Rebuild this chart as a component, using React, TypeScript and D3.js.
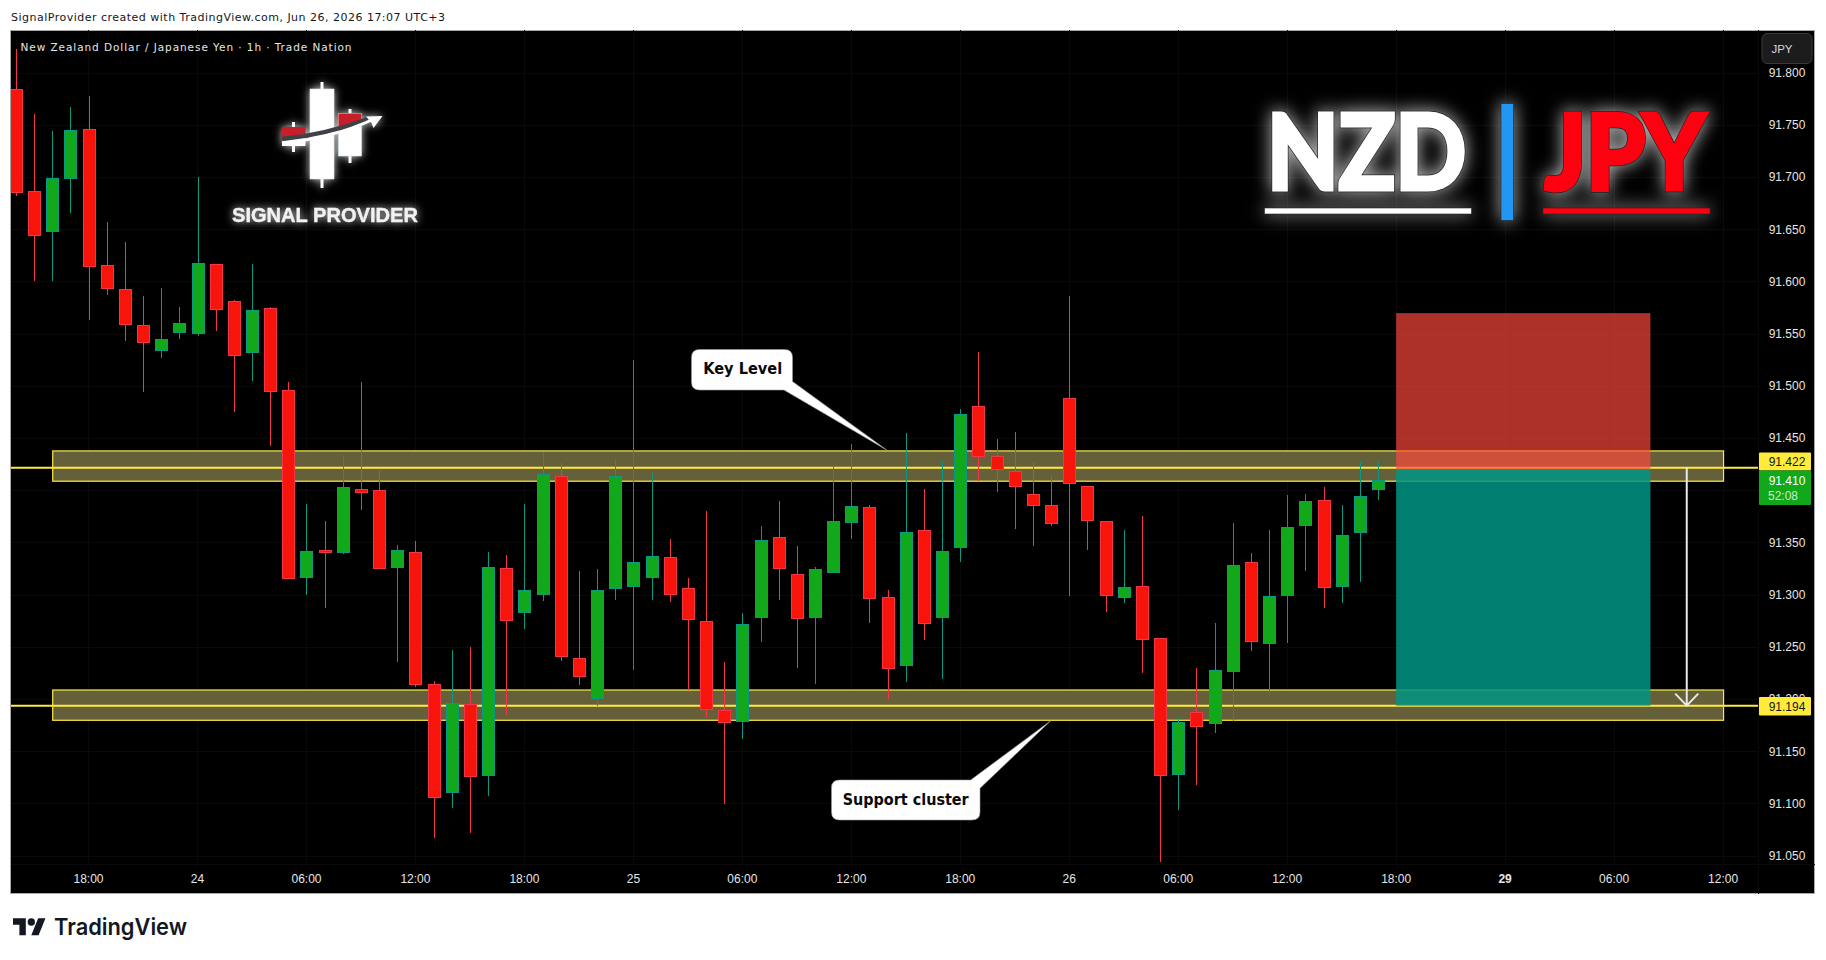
import React from "react";
import * as d3 from "d3";

const width = 1826;
const height = 960;

// one hourly bar each, from Jun 23 14:00 to Jun 26 17:00
const opens = [91.785, 91.687, 91.648, 91.698, 91.746, 91.616, 91.593, 91.559, 91.534, 91.551, 91.550, 91.617, 91.582, 91.532, 91.575, 91.496, 91.316, 91.343, 91.340, 91.402, 91.401, 91.326, 91.341, 91.215, 91.110, 91.196, 91.127, 91.326, 91.283, 91.300, 91.414, 91.240, 91.200, 91.306, 91.308, 91.316, 91.336, 91.307, 91.275, 91.190, 91.178, 91.278, 91.356, 91.320, 91.278, 91.321, 91.369, 91.384, 91.298, 91.232, 91.362, 91.278, 91.345, 91.481, 91.433, 91.419, 91.397, 91.386, 91.489, 91.404, 91.371, 91.297, 91.309, 91.259, 91.128, 91.188, 91.176, 91.226, 91.332, 91.253, 91.299, 91.366, 91.391, 91.308, 91.359, 91.401];
const highs = [91.823, 91.761, 91.744, 91.767, 91.778, 91.657, 91.638, 91.586, 91.594, 91.576, 91.700, 91.617, 91.583, 91.617, 91.576, 91.504, 91.387, 91.371, 91.434, 91.504, 91.420, 91.348, 91.352, 91.218, 91.247, 91.250, 91.341, 91.338, 91.387, 91.437, 91.426, 91.323, 91.325, 91.429, 91.525, 91.417, 91.354, 91.316, 91.380, 91.236, 91.283, 91.366, 91.390, 91.347, 91.327, 91.424, 91.445, 91.386, 91.305, 91.455, 91.402, 91.428, 91.478, 91.533, 91.449, 91.456, 91.427, 91.414, 91.586, 91.404, 91.371, 91.362, 91.376, 91.259, 91.182, 91.230, 91.273, 91.369, 91.340, 91.362, 91.396, 91.397, 91.403, 91.386, 91.427, 91.428];
const lows = [91.682, 91.601, 91.601, 91.666, 91.563, 91.587, 91.543, 91.494, 91.527, 91.545, 91.548, 91.553, 91.475, 91.505, 91.443, 91.315, 91.300, 91.288, 91.339, 91.381, 91.325, 91.236, 91.212, 91.067, 91.096, 91.072, 91.107, 91.184, 91.267, 91.294, 91.237, 91.214, 91.194, 91.295, 91.228, 91.295, 91.293, 91.209, 91.183, 91.100, 91.162, 91.255, 91.295, 91.230, 91.215, 91.321, 91.354, 91.273, 91.200, 91.217, 91.257, 91.220, 91.332, 91.409, 91.399, 91.363, 91.347, 91.366, 91.299, 91.343, 91.284, 91.292, 91.225, 91.044, 91.094, 91.118, 91.168, 91.179, 91.246, 91.204, 91.254, 91.323, 91.288, 91.292, 91.312, 91.391];
const closes = [91.685, 91.644, 91.699, 91.745, 91.614, 91.593, 91.559, 91.541, 91.545, 91.561, 91.618, 91.573, 91.529, 91.573, 91.494, 91.315, 91.342, 91.340, 91.403, 91.398, 91.325, 91.343, 91.214, 91.106, 91.197, 91.126, 91.327, 91.275, 91.305, 91.416, 91.241, 91.221, 91.305, 91.414, 91.332, 91.337, 91.300, 91.276, 91.190, 91.177, 91.272, 91.353, 91.325, 91.277, 91.325, 91.371, 91.385, 91.296, 91.229, 91.360, 91.272, 91.342, 91.473, 91.432, 91.420, 91.403, 91.385, 91.368, 91.406, 91.371, 91.299, 91.308, 91.257, 91.127, 91.178, 91.174, 91.228, 91.329, 91.255, 91.299, 91.365, 91.390, 91.307, 91.357, 91.395, 91.410];

const priceTicks = [91.8, 91.75, 91.7, 91.65, 91.6, 91.55, 91.5, 91.45, 91.4, 91.35, 91.3, 91.25, 91.2, 91.15, 91.1, 91.05];
const timeLabels = ["18:00", "24", "06:00", "12:00", "18:00", "25", "06:00", "12:00", "18:00", "26", "06:00", "12:00", "18:00", "29", "06:00", "12:00"];
const timeIndex = [4, 10, 16, 22, 28, 34, 40, 46, 52, 58, 64, 70, 76, 82, 88, 94];

// drawn levels, in price
const keyZone = [91.438, 91.409];
const supportZone = [91.209, 91.18];
const zoneStart = 2;
const zoneEnd = 94;
const upperLine = 91.422;
const lowerLine = 91.194;
const lastPrice = 91.41;
const countdown = "52:08";
const stopPrice = 91.57;
const entryPrice = 91.42;
const targetPrice = 91.194;
const boxStart = 76;
const boxEnd = 90;
const arrowBar = 92;

const x = d3.scaleLinear().domain([0, 75]).range([15.9, 1378]);
const y = d3.scaleLinear().domain([91.45, 91.05]).range([438.4, 856]);

const pane = { left: 11, top: 30, right: 1758, bottom: 864 };
const frame = { right: 1814.5, bottom: 893.5 };

const RED = "#f7140a";
const RED_EDGE = "#f23645";
const GREEN = "#11a81b";
const GREEN_EDGE = "#089981";
const YELLOW = "#ffeb3b";
const UI = "'Liberation Sans', sans-serif";

const px = (i: number) => Math.round(x(i));

function Candles() {
  return (
    <g shapeRendering="crispEdges">
      {opens.map((o, i) => {
        const up = closes[i] >= o;
        const top = Math.round(y(Math.max(o, closes[i])));
        const bot = Math.round(y(Math.min(o, closes[i])));
        const cx = px(i);
        return (
          <g key={i}>
            <line x1={cx + 0.5} x2={cx + 0.5} y1={y(highs[i])} y2={y(lows[i])} stroke={up ? GREEN_EDGE : RED_EDGE} />
            <rect x={cx - 5.5} y={top + 0.5} width={12} height={Math.max(1, bot - top - 1)} fill={up ? GREEN : RED} stroke={up ? GREEN_EDGE : RED_EDGE} />
          </g>
        );
      })}
    </g>
  );
}

function Zone({ band }: { band: number[] }) {
  return (
    <rect
      x={x(zoneStart) + 0.5}
      y={y(band[0])}
      width={x(zoneEnd) - x(zoneStart)}
      height={y(band[1]) - y(band[0])}
      fill="#66603a"
      stroke={YELLOW}
      strokeWidth={1.2}
    />
  );
}

function Callout({ d, label, cx, cy, size, fit }: { d: string; label: string; cx: number; cy: number; size: number; fit: number }) {
  return (
    <g>
      <path d={d} fill="#fff" stroke="#9a9a9a" strokeWidth={0.6} />
      <text
        x={cx - fit / 2}
        y={cy}
        textLength={fit}
        lengthAdjust="spacingAndGlyphs"
        fontFamily="'DejaVu Sans', sans-serif"
        fontWeight={700}
        fontSize={size}
        fill="#0a0a0a"
        dominantBaseline="central"
      >
        {label}
      </text>
    </g>
  );
}

function SignalLogo() {
  return (
    <g style={{ filter: "drop-shadow(0 0 4px rgba(255,255,255,.8))" }}>
      <path d="M322 82V188M293.5 122V152M350 109V163" stroke="#fff" strokeWidth={3} />
      <rect x={310} y={89} width={24} height={90} fill="#fff" stroke="#cfe4ee" strokeWidth={0.6} />
      <rect x={338.5} y={113.5} width={23} height={42.5} fill="#fff" stroke="#cfe4ee" strokeWidth={0.6} />
      <rect x={282} y={137} width={23.5} height={9} fill="#fff" />
      <path d="M338.5 113.5H361.5V124Q350 129 338.5 132Z" fill="#c81e2a" />
      <path d="M282 127H305.5V134L282 138Z" fill="#c81e2a" />
      <path d="M282 139Q325 135 368 119" fill="none" stroke="#3f4146" strokeWidth={4.5} />
      <path d="M282 143Q330 139 374 119" fill="none" stroke="#fff" strokeWidth={3} />
      <path d="M382.5 116L366 116.5L371 122L373.5 128Z" fill="#fff" />
      <text x={232} y={221.5} textLength={186} lengthAdjust="spacingAndGlyphs" fontFamily={UI} fontWeight={700} fontSize={21} fill="#f2f2f2" stroke="#f2f2f2" strokeWidth={0.4}>
        SIGNAL PROVIDER
      </text>
    </g>
  );
}

function PairWord({ word, left, fit, fill }: { word: string; left: number; fit: number; fill: string }) {
  const common = {
    x: left,
    y: 188.5,
    textLength: fit,
    lengthAdjust: "spacingAndGlyphs",
    fontFamily: "Lato, sans-serif",
    fontWeight: 700,
    fontSize: 104,
    strokeLinejoin: "miter" as const,
  };
  // the lettering is heavier than any installed weight, so it is fattened with strokes
  return (
    <g>
      <text {...common} fill="#222" stroke="#222" strokeWidth={6.5}>
        {word}
      </text>
      <text {...common} fill={fill} stroke={fill} strokeWidth={5}>
        {word}
      </text>
    </g>
  );
}

function PairTitle() {
  return (
    <g style={{ filter: "drop-shadow(0 0 9px rgba(255,255,255,.75))" }}>
      <PairWord word="NZD" left={1267} fit={199} fill="#fff" />
      <rect x={1264.5} y={208} width={207} height={6} fill="#fff" stroke="#222" strokeWidth={0.6} />
      <rect x={1501} y={103.5} width={12.5} height={117} fill="#2196f3" stroke="#222" strokeWidth={0.6} />
      <PairWord word="JPY" left={1545} fit={160} fill="#ff0010" />
      <rect x={1543} y={208} width={167} height={6} fill="#ff0010" stroke="#222" strokeWidth={0.6} />
    </g>
  );
}

export default function App() {
  return (
    <svg width={width} height={height} viewBox={`0 0 ${width} ${height}`} style={{ position: "absolute", left: 0, top: 0, background: "#fff" }}>
      <defs>
        <clipPath id="pane">
          <rect x={pane.left} y={pane.top} width={pane.right - pane.left} height={pane.bottom - pane.top} />
        </clipPath>
      </defs>

      <text x={11} y={21} fontFamily="'DejaVu Sans', sans-serif" fontSize={11} fill="#131722" textLength={434}>
        SignalProvider created with TradingView.com, Jun 26, 2026 17:07 UTC+3
      </text>

      <rect x={10.5} y={30.5} width={frame.right - 10.5} height={frame.bottom - 30.5} fill="#000" stroke="#a8a8a8" />

      {/* grid */}
      <g stroke="#0a0a0a" shapeRendering="crispEdges">
        {priceTicks.map((p) => (
          <line key={p} x1={pane.left} x2={pane.right} y1={y(p)} y2={y(p)} />
        ))}
        {timeIndex.map((i) => (
          <line key={i} x1={x(i)} x2={x(i)} y1={pane.top} y2={pane.bottom} />
        ))}
        <line x1={pane.left} x2={frame.right} y1={pane.bottom} y2={pane.bottom} />
        <line x1={pane.right} x2={pane.right} y1={pane.top} y2={frame.bottom} />
      </g>

      <g clipPath="url(#pane)">
        <Zone band={keyZone} />
        <Zone band={supportZone} />
        <line x1={pane.left} x2={pane.right} y1={y(upperLine)} y2={y(upperLine)} stroke={YELLOW} strokeWidth={2} />
        <line x1={pane.left} x2={pane.right} y1={y(lowerLine)} y2={y(lowerLine)} stroke={YELLOW} strokeWidth={2} />
        <Candles />

        <rect x={x(boxStart)} y={y(stopPrice)} width={x(boxEnd) - x(boxStart)} height={y(entryPrice) - y(stopPrice)} fill="#ff483c" fillOpacity={0.68} />
        <rect x={x(boxStart)} y={y(entryPrice)} width={x(boxEnd) - x(boxStart)} height={y(targetPrice) - y(entryPrice)} fill="#009585" fillOpacity={0.85} />

        <path
          d={`M${x(arrowBar)} ${y(upperLine)}V${y(lowerLine)}M${x(arrowBar) - 11.5} ${y(lowerLine) - 12}L${x(arrowBar)} ${y(lowerLine)}L${x(arrowBar) + 11.5} ${y(lowerLine) - 12}`}
          fill="none"
          stroke="#e8e8e8"
          strokeWidth={2}
        />

        <SignalLogo />
        <PairTitle />

        <Callout
          d="M699.5 349.5H784.5Q792.5 349.5 792.5 357.5V381.5L886.7 450L784 390H699.5Q691.5 390 691.5 382V357.5Q691.5 349.5 699.5 349.5Z"
          label="Key Level"
          cx={742.7}
          cy={369}
          size={15}
          fit={79}
        />
        <Callout
          d="M839.5 780H970.7L1050.7 720.7L980 788.3V812Q980 820 972 820H839.5Q831.5 820 831.5 812V788Q831.5 780 839.5 780Z"
          label="Support cluster"
          cx={905.7}
          cy={799.5}
          size={15}
          fit={126}
        />
      </g>

      <text x={20.5} y={46.5} dominantBaseline="central" fontFamily="'DejaVu Sans', sans-serif" fontSize={10.5} fill="#e6e6e6" textLength={331}>
        New Zealand Dollar / Japanese Yen · 1h · Trade Nation
      </text>

      {/* price scale, 91.400 sits fully behind the last-price tag */}
      <g fontFamily={UI} fontSize={12} fill="#e6e6e6" textAnchor="middle">
        {priceTicks
          .filter((p) => p !== 91.4)
          .map((p) => (
            <text key={p} x={1787} y={y(p)} dominantBaseline="central">
              {d3.format(".3f")(p)}
            </text>
          ))}
      </g>

      <rect x={1762} y={33.5} width={50} height={30} rx={5} fill="#1c1c1c" stroke="#3a3a3a" />
      <text x={1782} y={48.5} dominantBaseline="central" textAnchor="middle" fontFamily={UI} fontSize={11.5} fill="#d8d8d8">
        JPY
      </text>

      <rect x={1759} y={452.5} width={52} height={18} rx={1} fill={YELLOW} />
      <text x={1787} y={461.5} dominantBaseline="central" textAnchor="middle" fontFamily={UI} fontSize={12} fill="#131722">
        {upperLine}
      </text>
      <rect x={1759} y={470.5} width={52} height={34.5} rx={1} fill={GREEN} />
      <text x={1787} y={480.5} dominantBaseline="central" textAnchor="middle" fontFamily={UI} fontSize={12} fill="#fff">
        {lastPrice.toFixed(3)}
      </text>
      <text x={1783} y={495.5} dominantBaseline="central" textAnchor="middle" fontFamily={UI} fontSize={12} fill="#c5eec7">
        {countdown}
      </text>
      <rect x={1759} y={697} width={52} height={18.5} rx={1} fill={YELLOW} />
      <text x={1787} y={706.5} dominantBaseline="central" textAnchor="middle" fontFamily={UI} fontSize={12} fill="#131722">
        {lowerLine}
      </text>

      {/* time scale */}
      <g fontFamily={UI} fontSize={12} fill="#e6e6e6" textAnchor="middle">
        {timeLabels.map((t, k) => (
          <text key={k} x={x(timeIndex[k])} y={878.5} dominantBaseline="central" fontWeight={t === "29" ? 700 : 400}>
            {t}
          </text>
        ))}
      </g>

      {/* footer brand */}
      <g transform="translate(13 914.5) scale(0.915 0.94)" fill="#131722">
        <path d="M14 22H7V11H0V4h14v18zM28 22h-8l7.5-18h8L28 22z" />
        <circle cx={20} cy={8} r={4} />
      </g>
      <text x={54} y={935} textLength={133} lengthAdjust="spacingAndGlyphs" fontFamily="Inter, sans-serif" fontWeight={600} fontSize={23} fill="#131722">
        TradingView
      </text>
    </svg>
  );
}
